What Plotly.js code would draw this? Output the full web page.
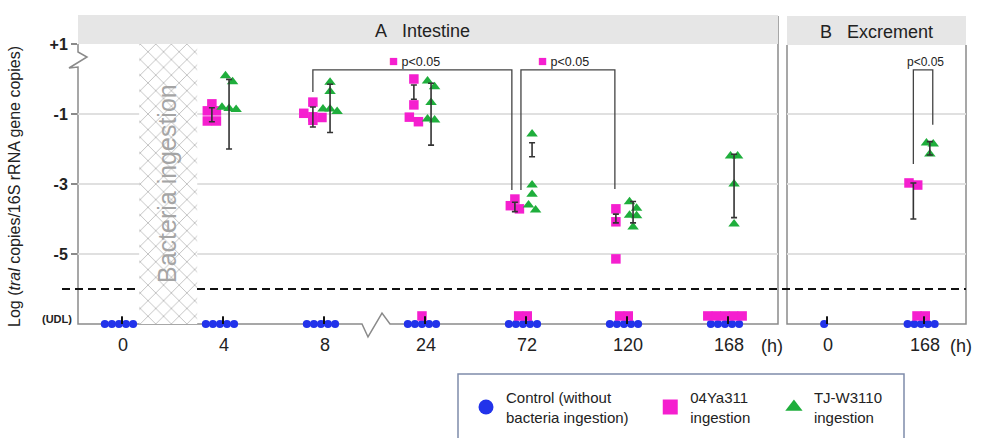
<!DOCTYPE html>
<html><head><meta charset="utf-8">
<script src="https://cdn.plot.ly/plotly-3.0.1.min.js"></script>
<style>html,body{margin:0;padding:0;background:#fff}#chart{width:984px;height:438px}</style>
</head><body><div id="chart"></div>
<script>
// ---------- data ----------
const timesA = ['0','4','8','24','72','120','168'];
const timesB = ['0','168'];
const U = null;            // under detection limit (UDL)
const UDL = -7;

// Panel A: Intestine (log values per time point)
const controlA = [[U,U,U,U,U],[U,U,U,U,U],[U,U,U,U,U],[U,U,U,U,U],[U,U,U,U,U],[U,U,U,U,U],[U,U,U,U,U]];
const ya311A = [[], [-0.71,-0.91,-0.91,-1.2,-1.2], [-0.66,-0.98,-1.18,-1.1,-1.08], [0.0,-0.74,-1.09,-1.22,U],
                [-3.43,-3.62,-3.71,U,U], [-3.71,-4.08,-5.14,U,U], [U,U,U,U,U]];
const tjA = [[], [0.09,-0.08,-0.81,-0.84,-0.87], [-0.09,-0.36,-0.86,-0.86,-0.93], [-0.06,-0.22,-0.67,-1.14,-1.17],
             [-1.57,-3.03,-3.29,-3.6,-3.74], [-3.51,-3.69,-3.91,-3.89,-4.23], [-2.2,-2.2,-3.0,-4.14]];
const ya311A_errLo = [U,-1.22,-1.37,-0.58,-3.79,-4.11,U];
const ya311A_errHi = [U,-0.82,-0.80,-0.17,-3.52,-3.86,U];
const tjA_errLo = [U,-2.0,-1.53,-1.89,-2.22,-4.11,-3.96];
const tjA_errHi = [U,-0.01,-0.15,-0.12,-1.82,-3.5,-2.15];

// Panel B: Excrement
const controlB = [[U],[U,U,U,U,U]];
const ya311B = [[], [-2.97,-3.03,U,U]];
const tjB = [[], [-1.86,-1.83,-2.14]];
const ya311B_errLo = [U,-4.0];
const ya311B_errHi = [U,-2.97];
const tjB_errLo = [U,-2.17];
const tjB_errHi = [U,-1.79];

const yTickVals = [1,-1,-3,-5];
const yTickText = ['+1','-1','-3','-5'];
const legendNames = ['Control (without<br>bacteria ingestion)\u00a0\u00a0\u00a0\u00a0',
                     '04Ya311\u00a0\u00a0\u00a0\u00a0\u00a0<br>ingestion\u00a0\u00a0\u00a0\u00a0',
                     'TJ-W3110<br>ingestion'];

// ---------- styles ----------
const BLUE='#2233ea', PINK='#f51fcf', GREEN='#1fae3c';
const FONT='Liberation Sans, Arial, Helvetica, sans-serif';
const W=984, H=438;
const px = x => x/W, py = y => 1-y/H;

function spread(vals, spacing, thr){
  const idx = vals.map((v,i)=>i).sort((a,b)=>vals[b]-vals[a]);
  const off = new Array(vals.length).fill(0);
  let i=0;
  while(i<idx.length){
    let j=i+1;
    while(j<idx.length && vals[idx[i]]-vals[idx[j]] < thr) j++;
    const n=j-i;
    for(let k=0;k<n;k++) off[idx[i+k]]=(k-(n-1)/2)*spacing;
    i=j;
  }
  return off;
}

function points(groups, xa, ya, base, udlBase, spacing, udlSpacing, thr, udlY, marker){
  const xs=[], ys=[];
  groups.forEach((g,i)=>{
    const det=g.filter(v=>v!==null), und=g.filter(v=>v===null);
    const off=spread(det, spacing, thr);
    det.forEach((v,k)=>{xs.push(i+base+off[k]); ys.push(v);});
    und.forEach((v,k)=>{xs.push(i+udlBase+(k-(und.length-1)/2)*udlSpacing); ys.push(udlY);});
  });
  return {type:'scatter',mode:'markers',x:xs,y:ys,xaxis:xa,yaxis:ya,marker:marker,
          showlegend:false,cliponaxis:false,hoverinfo:'skip'};
}

function errbars(lo, hi, xa, ya, base){
  const xs=[],ys=[],e=[];
  lo.forEach((l,i)=>{ if(l===null) return; xs.push(i+base); ys.push((l+hi[i])/2); e.push((hi[i]-l)/2); });
  return {type:'scatter',mode:'markers',x:xs,y:ys,xaxis:xa,yaxis:ya,marker:{size:1,opacity:0},
          error_y:{type:'data',array:e,visible:true,color:'#333',thickness:1.6,width:3},
          showlegend:false,cliponaxis:false,hoverinfo:'skip'};
}

function udlTicks(groups, xa, ya){
  const xs=groups.map((g,i)=>i-0.01);
  return {type:'scatter',mode:'markers',x:xs,y:xs.map(()=>UDL),xaxis:xa,yaxis:ya,marker:{size:1,opacity:0},
          error_y:{type:'data',array:xs.map(()=>0.22),arrayminus:xs.map(()=>0.03),visible:true,color:'#111',thickness:2,width:0},
          showlegend:false,cliponaxis:false,hoverinfo:'skip'};
}

const mC={symbol:'circle',size:8,color:BLUE};
const mS={symbol:'square',size:9.5,color:PINK};
const mT={symbol:'triangle-up',size:10,color:GREEN};
const udlSq = UDL+0.23;

// hatched band (bacteria ingestion period, between 0 h and 4 h)
const band = {type:'scatter',mode:'lines',x:[0.16,0.735,0.735,0.16,0.16],y:[UDL,UDL,1,1,UDL],
  xaxis:'x',yaxis:'y',fill:'toself',line:{width:0,color:'rgba(0,0,0,0)'},fillcolor:'rgba(255,255,255,1)',
  fillpattern:{shape:'x',bgcolor:'#ffffff',fgcolor:'#a9a9a9',size:11,solidity:0.12},
  showlegend:false,hoverinfo:'skip'};

const traces=[band,
  points(controlA,'x','y',0,-0.04,0.07,0.07,0.2,UDL,mC),
  points(ya311A,'x','y',-0.12,-0.04,0.09,0.085,0.15,udlSq,mS),
  points(tjA,'x','y',0.05,0,0.07,0.07,0.2,UDL,mT),
  points(controlB,'x2','y2',0,-0.04,0.07,0.07,0.2,UDL,mC),
  points(ya311B,'x2','y2',-0.12,-0.04,0.09,0.085,0.15,udlSq,mS),
  points(tjB,'x2','y2',0.05,0,0.07,0.07,0.2,UDL,mT),
  errbars(ya311A_errLo,ya311A_errHi,'x','y',-0.12),
  errbars(tjA_errLo,tjA_errHi,'x','y',0.05),
  errbars(ya311B_errLo,ya311B_errHi,'x2','y2',-0.12),
  errbars(tjB_errLo,tjB_errHi,'x2','y2',0.05),
  udlTicks(controlA,'x','y'),
  udlTicks(controlB,'x2','y2')
];
// legend-only traces
[mC,mS,mT].forEach((m,i)=>{
  traces.push({type:'scatter',mode:'markers',x:[null],y:[null],xaxis:'x',yaxis:'y',name:legendNames[i],
    marker:Object.assign({},m,{size:15}),showlegend:true});
});

const GRID='#e0e0e0', AX='#8a8a8a';
const yCommon={range:[UDL,1],domain:[py(324),py(44)],showgrid:true,gridcolor:GRID,gridwidth:1.5,
  zeroline:false,showline:false,tickvals:yTickVals,fixedrange:true};

const shapes=[
  {type:'rect',xref:'paper',yref:'paper',x0:px(78),x1:px(778),y0:py(44),y1:py(15),fillcolor:'#e6e6e6',line:{width:0}},
  {type:'rect',xref:'paper',yref:'paper',x0:px(787),x1:px(966),y0:py(45),y1:py(16),fillcolor:'#e6e6e6',line:{width:0}},
  // panel A frame with axis breaks
  {type:'path',xref:'paper',yref:'paper',layer:'below',line:{color:AX,width:1.5},
   path:`M${px(78)},${py(44)} L${px(78)},${py(52)} L${px(87)},${py(57)} L${px(69)},${py(68)} L${px(78)},${py(67)} L${px(78)},${py(324)} L${px(362)},${py(324)} L${px(368)},${py(337)} L${px(382)},${py(313)} L${px(390)},${py(324)} L${px(778)},${py(324)} L${px(778)},${py(16)}`},
  {type:'path',xref:'paper',yref:'paper',layer:'below',line:{color:AX,width:1.5},
   path:`M${px(787)},${py(45)} L${px(787)},${py(324)} L${px(966)},${py(324)} L${px(966)},${py(45)}`},
  // detection limit line
  {type:'line',xref:'paper',yref:'y',x0:px(62),x1:px(139),y0:-6,y1:-6,line:{color:'#111',width:2,dash:'8px,5px'}},
  {type:'line',xref:'paper',yref:'y',x0:px(197),x1:px(966),y0:-6,y1:-6,line:{color:'#111',width:2,dash:'8px,5px'}},
  // brackets
  {type:'path',xref:'x',yref:'y',line:{color:'#444',width:1.3},path:'M1.88,-0.37 L1.88,0.26 L3.85,0.26 L3.85,-3.17'},
  {type:'path',xref:'x',yref:'y',line:{color:'#444',width:1.3},path:'M3.94,-3.17 L3.94,0.26 L4.87,0.26 L4.87,-3.14'},
  {type:'path',xref:'x2',yref:'y2',line:{color:'#444',width:1.3},path:'M0.88,-2.43 L0.88,0.26 L1.08,0.26 L1.08,-1.31'},
  // legend box
  {type:'rect',xref:'paper',yref:'paper',x0:px(458),x1:px(904),y0:py(445),y1:py(374),line:{color:'#7f8cab',width:1.5},fillcolor:'rgba(0,0,0,0)'}
];

const ann=(o)=>Object.assign({showarrow:false,xanchor:'center',yanchor:'middle',font:{family:FONT,size:18,color:'#222'}},o);
const annotations=[
  ann({xref:'paper',yref:'paper',x:px(422),y:py(31),text:'A\u00a0\u00a0\u00a0Intestine'}),
  ann({xref:'paper',yref:'paper',x:px(876),y:py(32),text:'B\u00a0\u00a0\u00a0Excrement'}),
  ann({xref:'paper',yref:'paper',x:px(167),y:py(184),text:'Bacteria ingestion',textangle:-90,font:{family:FONT,size:25,color:'#a5a5a5'}}),
  ann({xref:'paper',yref:'paper',x:px(14),y:py(187),text:'Log (<i>tral</i> copies/16S rRNA gene copies)',textangle:-90,font:{family:FONT,size:16,color:'#222'}}),
  ann({xref:'paper',yref:'paper',x:px(57),y:py(319),text:'<b>(UDL)</b>',font:{family:FONT,size:11,color:'#222'}}),
  ann({xref:'paper',yref:'paper',x:px(772),y:py(346),text:'(h)',font:{family:FONT,size:18,color:'#222'}}),
  ann({xref:'paper',yref:'paper',x:px(961),y:py(346),text:'(h)',font:{family:FONT,size:18,color:'#222'}}),
  ann({xref:'paper',yref:'paper',x:px(414),y:py(60),text:'<span style="color:'+PINK+';font-size:15px">■</span> p&lt;0.05',font:{family:FONT,size:12.5,color:'#222'}}),
  ann({xref:'paper',yref:'paper',x:px(563),y:py(60),text:'<span style="color:'+PINK+';font-size:15px">■</span> p&lt;0.05',font:{family:FONT,size:12.5,color:'#222'}}),
  ann({xref:'paper',yref:'paper',x:px(925),y:py(62),text:'p&lt;0.05',font:{family:FONT,size:12,color:'#222'}})
];

const layout={
  width:W,height:H,margin:{l:0,r:0,t:0,b:0},paper_bgcolor:'#fff',plot_bgcolor:'#fff',
  font:{family:FONT,color:'#222'},
  xaxis:{domain:[px(78),px(778)],range:[-0.4455,6.485],tickvals:timesA.map((t,i)=>i),ticktext:timesA,
    showgrid:false,zeroline:false,showline:false,ticks:'',ticklabelstandoff:8,tickfont:{size:18,color:'#222'},fixedrange:true},
  xaxis2:{domain:[px(787),px(966)],range:[-0.4227,1.4227],tickvals:timesB.map((t,i)=>i),ticktext:timesB,anchor:'y2',
    showgrid:false,zeroline:false,showline:false,ticks:'',ticklabelstandoff:8,tickfont:{size:18,color:'#222'},fixedrange:true},
  yaxis:Object.assign({},yCommon,{ticktext:yTickText,ticks:'outside',ticklen:6,tickwidth:1.5,tickcolor:AX,
    tickfont:{size:16,color:'#222',weight:'bold'}}),
  yaxis2:Object.assign({},yCommon,{anchor:'x2',showticklabels:false}),
  shapes:shapes,annotations:annotations,
  showlegend:true,
  legend:{orientation:'h',x:px(466),y:py(381),xanchor:'left',yanchor:'top',bgcolor:'rgba(0,0,0,0)',
    font:{family:FONT,size:15,color:'#222'},itemsizing:'trace',itemclick:false,itemdoubleclick:false}
};

Plotly.newPlot('chart',traces,layout,{displayModeBar:false,staticPlot:true});
</script></body></html>
